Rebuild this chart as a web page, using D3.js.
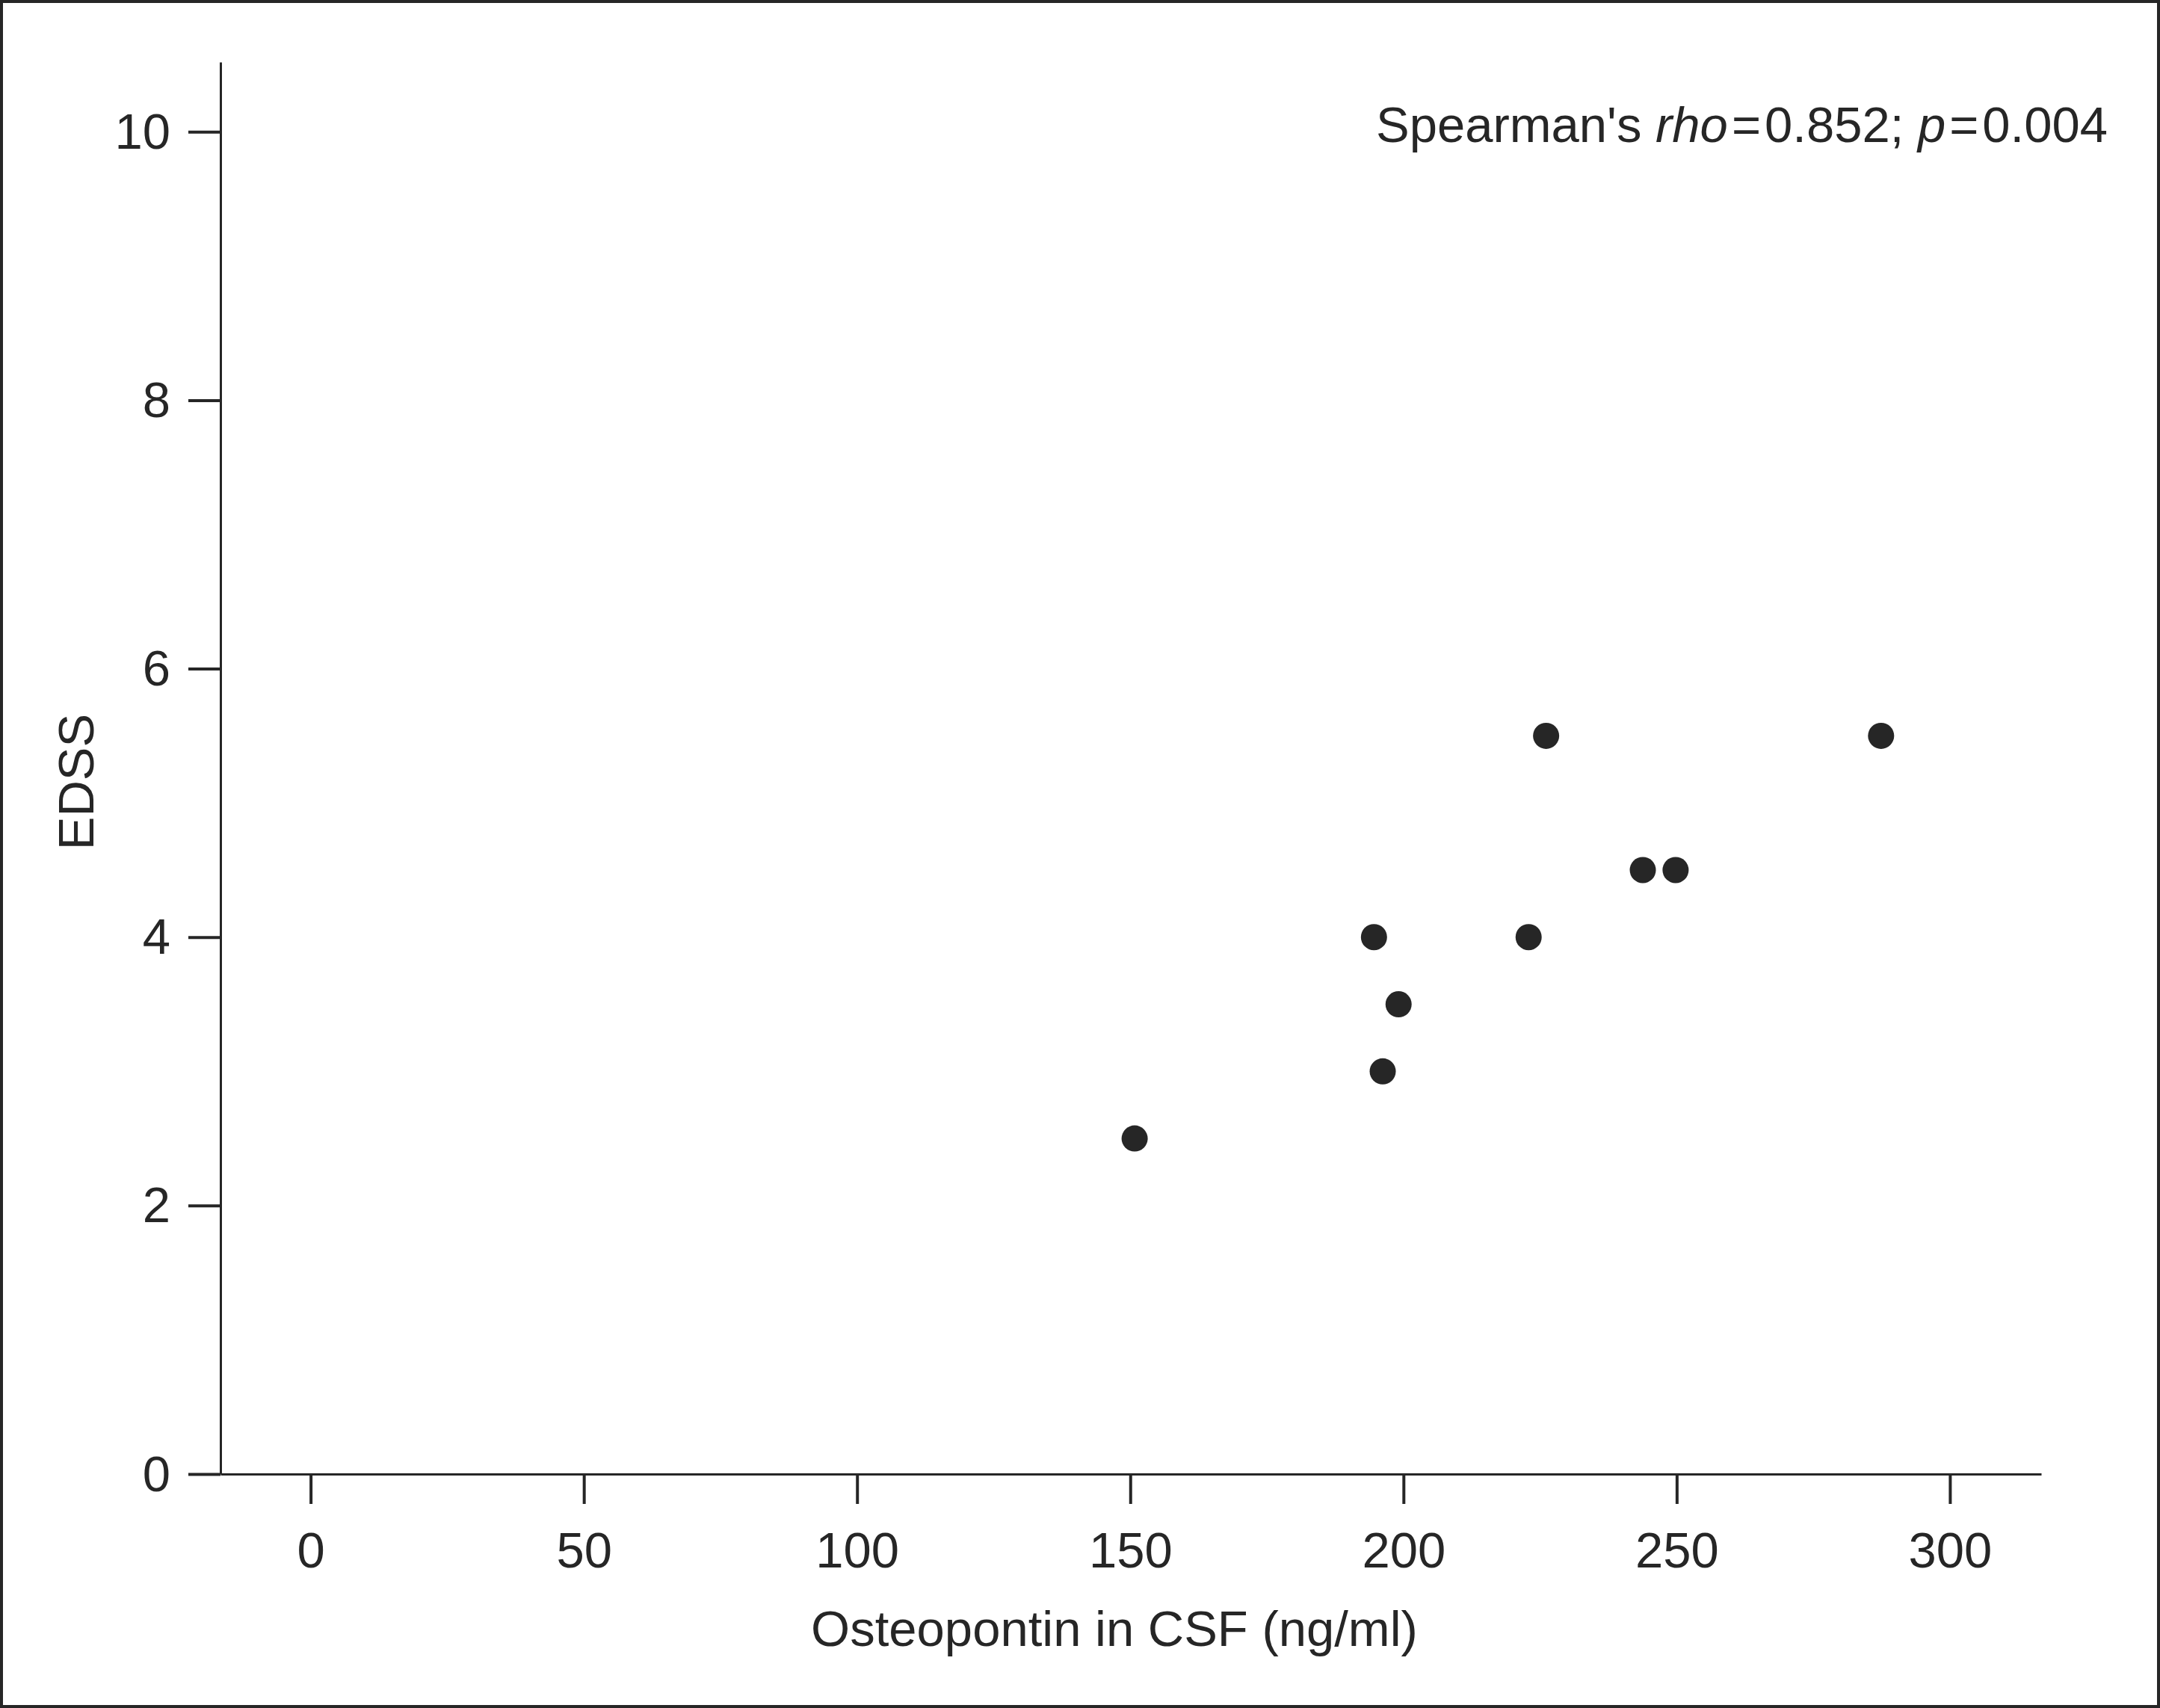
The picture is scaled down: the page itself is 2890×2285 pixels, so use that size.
<!DOCTYPE html>
<html>
<head>
<meta charset="utf-8">
<script src="https://d3js.org/d3.v7.min.js"></script>
<style>
  body { margin: 0; background: #fff; }
  svg text { font-family: "Liberation Sans", Arial, Helvetica, sans-serif; fill: #262626; }
</style>
</head>
<body>
<svg id="chart" width="2890" height="2285"></svg>
<script>
// data
const osteopontin = [150.8, 194.6, 196.2, 199.1, 222.9, 226.1, 243.8, 249.8, 287.4];
const edss        = [2.5,   4.0,   3.0,   3.5,   4.0,   5.5,   4.5,   4.5,   5.5];
const xTicks = [0, 50, 100, 150, 200, 250, 300];
const yTicks = [0, 2, 4, 6, 8, 10];

const ink = "#262626";
const fontSize = 67;

let svg = d3.select("svg#chart");
const width = +svg.attr("width");
const height = +svg.attr("height");

// frame round the figure
svg.append("rect")
   .attr("x", 2).attr("y", 2)
   .attr("width", width - 4).attr("height", height - 4)
   .attr("fill", "none")
   .attr("stroke", ink)
   .attr("stroke-width", 4);

let xScale = d3.scaleLinear()
               .domain([-16.5, 316.7])
               .range([295, 2731]);

let yScale = d3.scaleLinear()
               .domain([0, 10.52])
               .range([1972, 83]);

// x axis
let xAxis = svg.append("g")
   .attr("transform", `translate(0,${yScale(0)})`)
   .call(d3.axisBottom(xScale).tickValues(xTicks).tickSize(40).tickSizeOuter(0));

xAxis.select(".domain").attr("stroke", ink).attr("stroke-width", 3);
xAxis.selectAll(".tick line").attr("stroke", ink).attr("stroke-width", 4);
xAxis.selectAll(".tick text")
     .attr("y", 125).attr("dy", null)
     .style("font-size", fontSize + "px")
     .attr("fill", ink);

// y axis
let yAxis = svg.append("g")
   .attr("transform", `translate(${xScale.range()[0]},0)`)
   .call(d3.axisLeft(yScale).tickValues(yTicks).tickSize(43).tickPadding(24).tickSizeOuter(0));

yAxis.select(".domain").attr("stroke", ink).attr("stroke-width", 3);
yAxis.selectAll(".tick line").attr("stroke", ink).attr("stroke-width", 4);
yAxis.selectAll(".tick text")
     .attr("dy", "0.33em")
     .style("font-size", fontSize + "px")
     .attr("fill", ink);

// axis titles
svg.append("text")
   .attr("x", 1491).attr("y", 2202)
   .attr("text-anchor", "middle")
   .style("font-size", fontSize + "px")
   .text("Osteopontin in CSF (ng/ml)");

svg.append("text")
   .attr("transform", "translate(125,1046) rotate(-90)")
   .attr("text-anchor", "middle")
   .style("font-size", fontSize + "px")
   .text("EDSS");

// correlation note
let note = svg.append("text")
   .attr("x", 2820).attr("y", 190)
   .attr("text-anchor", "end")
   .style("font-size", fontSize + "px");
note.append("tspan").text("Spearman's ");
note.append("tspan").style("font-style", "italic").text("rho");
note.append("tspan").attr("dx", 5).text("=");
note.append("tspan").attr("dx", 5).text("0.852; ");
note.append("tspan").style("font-style", "italic").text("p");
note.append("tspan").attr("dx", 5).text("=");
note.append("tspan").attr("dx", 5).text("0.004");

// points
osteopontin.forEach((d, i) => {
  svg.append("circle")
     .attr("cx", xScale(d))
     .attr("cy", yScale(edss[i]))
     .attr("r", 17.5)
     .style("fill", ink);
});
</script>
</body>
</html>
